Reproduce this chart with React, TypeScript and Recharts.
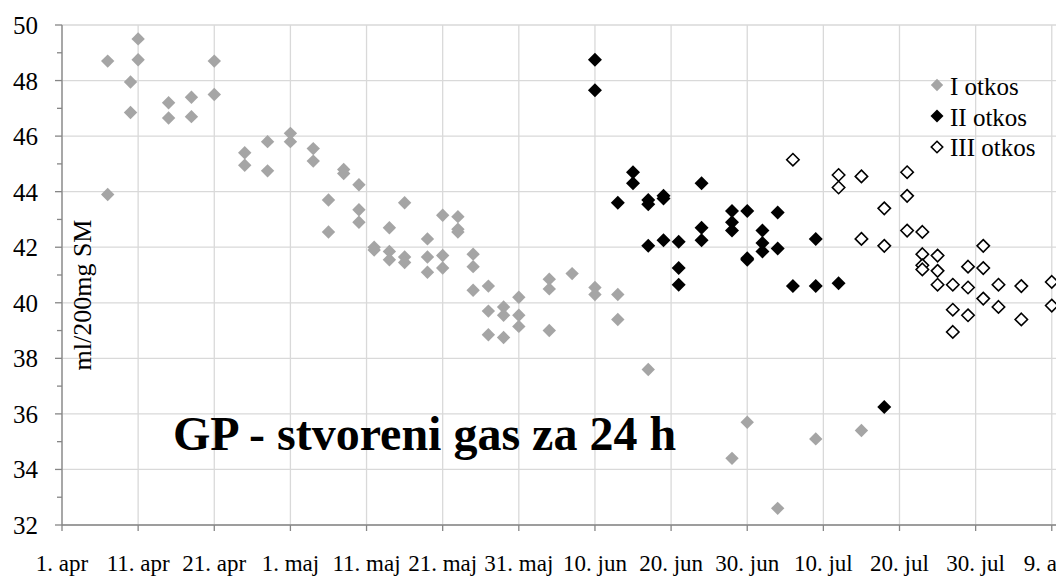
import { ScatterChart, Scatter, XAxis, YAxis, CartesianGrid } from 'recharts';

// days counted from 1. apr
const xTickDays = [0, 10, 20, 30, 40, 50, 60, 70, 80, 90, 100, 110, 120, 130];
const xTickLabels = [
  '1. apr', '11. apr', '21. apr', '1. maj', '11. maj', '21. maj', '31. maj',
  '10. jun', '20. jun', '30. jun', '10. jul', '20. jul', '30. jul', '9. aug',
];
const yTicks = [32, 33, 34, 35, 36, 37, 38, 39, 40, 41, 42, 43, 44, 45, 46, 47, 48, 49, 50];
const yGridValues = [32, 34, 36, 38, 40, 42, 44, 46, 48, 50];

// I otkos
const otkos1Days = [
  6, 6, 9, 9, 10, 10, 14, 14, 17, 17, 20, 20, 24, 24, 27, 27, 30, 30, 33, 33,
  35, 35, 37, 37, 39, 39, 39, 41, 41, 43, 43, 43, 45, 45, 45, 48, 48, 48,
  50, 50, 50, 52, 52, 52, 54, 54, 54, 56, 56, 56, 58, 58, 58, 60, 60, 60,
  64, 64, 64, 67, 70, 70, 73, 73, 77, 88, 90, 94, 99, 105,
];
const otkos1Values = [
  48.7, 43.9, 47.95, 46.85, 49.5, 48.75, 47.2, 46.65, 47.4, 46.7, 48.7, 47.5, 45.4, 44.95, 45.8, 44.75, 46.1, 45.8, 45.55, 45.1,
  43.7, 42.55, 44.8, 44.65, 44.25, 43.35, 42.9, 42.0, 41.9, 42.7, 41.85, 41.55, 43.6, 41.65, 41.45, 42.3, 41.65, 41.1,
  43.15, 41.7, 41.25, 43.1, 42.65, 42.55, 41.75, 41.3, 40.45, 40.6, 39.7, 38.85, 39.85, 39.55, 38.75, 40.2, 39.55, 39.15,
  40.85, 40.5, 39.0, 41.05, 40.55, 40.3, 40.3, 39.4, 37.6, 34.4, 35.7, 32.6, 35.1, 35.4,
];

// II otkos
const otkos2Days = [
  70, 70, 73, 75, 75, 77, 77, 77, 79, 79, 79, 81, 81, 81, 84, 84, 84,
  88, 88, 88, 90, 90, 90, 92, 92, 92, 94, 94, 96, 99, 99, 102, 108,
];
const otkos2Values = [
  48.75, 47.65, 43.6, 44.7, 44.3, 43.7, 43.55, 42.05, 43.85, 43.75, 42.25, 42.2, 41.25, 40.65, 44.3, 42.7, 42.25,
  43.3, 42.9, 42.6, 43.3, 41.6, 41.55, 42.6, 42.15, 41.85, 43.25, 41.95, 40.6, 42.3, 40.6, 40.7, 36.25,
];

// III otkos
const otkos3Days = [
  96, 102, 102, 105, 105, 108, 108, 111, 111, 111, 113, 113, 113, 113, 115, 115, 115,
  117, 117, 117, 119, 119, 119, 121, 121, 121, 123, 123, 126, 126, 130, 130,
];
const otkos3Values = [
  45.15, 44.6, 44.15, 44.55, 42.3, 43.4, 42.05, 44.7, 43.85, 42.6, 42.55, 41.75, 41.35, 41.2, 41.7, 41.15, 40.65,
  40.65, 39.75, 38.95, 41.3, 40.55, 39.55, 42.05, 41.25, 40.15, 40.65, 39.85, 40.6, 39.4, 40.75, 39.9,
];

const toPoints = (days: number[], values: number[]) => days.map((d, i) => ({ x: d, y: values[i] }));

const FONT = '"Liberation Serif", "Times New Roman", serif';
const AXIS = '#868686';
const GRID = '#d9d9d9';
const GRAY = '#a5a5a5';

const diamondPath = (cx: number, cy: number, r: number) =>
  `M${cx},${cy - r}L${cx + r},${cy}L${cx},${cy + r}L${cx - r},${cy}Z`;

const diamond = (fill: string, stroke: string, r: number, sw: number) => (props: any) => {
  const { cx, cy } = props;
  if (cx == null || cy == null) return <g />;
  return <path d={diamondPath(cx, cy, r)} fill={fill} stroke={stroke} strokeWidth={sw} />;
};

const series = [
  { name: 'I otkos', data: toPoints(otkos1Days, otkos1Values), fill: GRAY, stroke: 'none', r: 6.7, sw: 0 },
  { name: 'II otkos', data: toPoints(otkos2Days, otkos2Values), fill: '#000', stroke: 'none', r: 7, sw: 0 },
  { name: 'III otkos', data: toPoints(otkos3Days, otkos3Values), fill: '#fff', stroke: '#000', r: 6.2, sw: 1.6 },
];

const YTick = ({ x, y, payload }: any) => {
  const major = payload.value % 2 === 0;
  return (
    <g>
      <line x1={x - (major ? 7 : 5)} x2={x} y1={y} y2={y} stroke={AXIS} strokeWidth={1.3} />
      {major && (
        <text x={x - 24} y={y} dy={9} textAnchor="end" fontSize={25} fill="#000" fontFamily={FONT}>
          {payload.value}
        </text>
      )}
    </g>
  );
};

const XTick = ({ x, y, payload }: any) => (
  <text x={x} y={y} dy={40} textAnchor="middle" fontSize={23} fill="#000" fontFamily={FONT}>
    {xTickLabels[xTickDays.indexOf(payload.value)]}
  </text>
);

export default function App() {
  return (
    <div style={{ position: 'fixed', left: 0, top: 0, width: 1056, height: 577, overflow: 'hidden', background: '#fff' }}>
      <ScatterChart width={1070} height={577} margin={{ top: 25, right: 3, bottom: 12, left: 0 }}>
        <CartesianGrid stroke={GRID} strokeWidth={1.3} horizontalValues={yGridValues} />
        <XAxis
          type="number"
          dataKey="x"
          domain={[0, 132]}
          ticks={xTickDays}
          height={40}
          tickSize={6}
          tickMargin={0}
          tick={<XTick />}
          stroke={AXIS}
          axisLine={{ stroke: AXIS, strokeWidth: 1.3 }}
          tickLine={{ stroke: AXIS, strokeWidth: 1.3 }}
          interval={0}
        />
        <YAxis
          type="number"
          dataKey="y"
          domain={[32, 50]}
          ticks={yTicks}
          width={62}
          tickSize={0}
          tickMargin={0}
          tickLine={false}
          tick={<YTick />}
          axisLine={{ stroke: AXIS, strokeWidth: 1.3 }}
          interval={0}
        />
        {series.map((s) => (
          <Scatter
            key={s.name}
            name={s.name}
            data={s.data}
            shape={diamond(s.fill, s.stroke, s.r, s.sw)}
            isAnimationActive={false}
          />
        ))}
      </ScatterChart>
      <svg width={1056} height={577} style={{ position: 'absolute', left: 0, top: 0, pointerEvents: 'none' }}>
        <text x={91} y={295} transform="rotate(-90, 91, 295)" textAnchor="middle" fontSize={26} fontFamily={FONT} fill="#000">
          ml/200mg SM
        </text>
        <text x={173} y={450} fontSize={48} fontWeight="bold" fontFamily={FONT} fill="#000">
          GP - stvoreni gas za 24 h
        </text>
        {series.map((s, i) => (
          <g key={s.name}>
            <path d={diamondPath(937, 85 + i * 31, s.r - 0.5)} fill={s.fill} stroke={s.stroke} strokeWidth={s.sw} />
            <text x={950} y={95 + i * 30.7} fontSize={25} fontFamily={FONT} fill="#000">
              {s.name}
            </text>
          </g>
        ))}
      </svg>
    </div>
  );
}
